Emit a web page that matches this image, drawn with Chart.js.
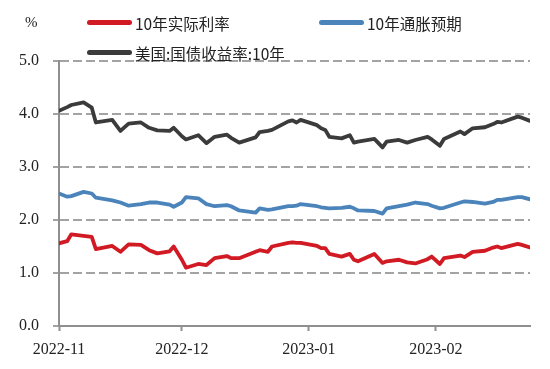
<!DOCTYPE html>
<html>
<head>
<meta charset="utf-8">
<script src="https://cdn.jsdelivr.net/npm/chart.js@4"></script>
<style>
    body { margin: 0; background: #fff; }
    #wrap { position: relative; width: 550px; height: 369px; }
    .unit { position: absolute; left: 25px; top: 14px; font: 15px "Liberation Serif", serif; color: #222; }
    .key { position: absolute; height: 5px; width: 45px; border-radius: 3px; }
    .label { position: absolute; font: 15.5px "Noto Sans CJK SC", sans-serif; color: #222; line-height: 18px; }
</style>
</head>
<body>
<div id="wrap">
    <canvas id="myChart" width="550" height="369"></canvas>
    <div class="unit">%</div>
    <div class="key" style="left:87px;top:20px;background:#d11a24"></div>
    <div class="label" style="left:135px;top:14px">10年实际利率</div>
    <div class="key" style="left:319px;top:20px;background:#4a84bb"></div>
    <div class="label" style="left:367px;top:14px">10年通胀预期</div>
    <div class="key" style="left:87px;top:50px;background:#3b3b3b"></div>
    <div class="label" style="left:135px;top:44px">美国:国债收益率:10年</div>
</div>
<script>
var dates = [
    '2022-11-01', '2022-11-03', '2022-11-04', '2022-11-07', '2022-11-09', '2022-11-10', '2022-11-14',
    '2022-11-16', '2022-11-18', '2022-11-21', '2022-11-23', '2022-11-25', '2022-11-28', '2022-11-29',
    '2022-12-01', '2022-12-02', '2022-12-05', '2022-12-07', '2022-12-09', '2022-12-12', '2022-12-13',
    '2022-12-15', '2022-12-19', '2022-12-20', '2022-12-22', '2022-12-23', '2022-12-27', '2022-12-28',
    '2022-12-29', '2022-12-30',
    '2023-01-03', '2023-01-04', '2023-01-05', '2023-01-06', '2023-01-09', '2023-01-11', '2023-01-12',
    '2023-01-13', '2023-01-17', '2023-01-19', '2023-01-20', '2023-01-23', '2023-01-25', '2023-01-27',
    '2023-01-30', '2023-01-31',
    '2023-02-02', '2023-02-03', '2023-02-07', '2023-02-08', '2023-02-10', '2023-02-13', '2023-02-15',
    '2023-02-16', '2023-02-17', '2023-02-21', '2023-02-22', '2023-02-24'
];

// 10年实际利率
var realRate = [
    1.56, 1.60, 1.73, 1.70, 1.68, 1.45, 1.51, 1.40, 1.54, 1.53, 1.43, 1.37, 1.41, 1.50,
    1.25, 1.10, 1.17, 1.15, 1.28, 1.32, 1.28, 1.28, 1.40, 1.43, 1.40, 1.50, 1.57, 1.58, 1.57, 1.57,
    1.51, 1.47, 1.47, 1.36, 1.31, 1.36, 1.25, 1.22, 1.36, 1.19, 1.22, 1.25, 1.20, 1.18, 1.26, 1.31,
    1.17, 1.28, 1.33, 1.30, 1.40, 1.42, 1.48, 1.50, 1.47, 1.55, 1.53, 1.48
];

// 10年通胀预期
var breakeven = [
    2.50, 2.44, 2.45, 2.53, 2.50, 2.42, 2.37, 2.33, 2.27, 2.30, 2.33, 2.33, 2.29, 2.25,
    2.33, 2.43, 2.41, 2.30, 2.26, 2.28, 2.26, 2.18, 2.14, 2.22, 2.19, 2.20, 2.26, 2.26, 2.27, 2.30,
    2.26, 2.24, 2.23, 2.22, 2.23, 2.25, 2.22, 2.18, 2.17, 2.12, 2.22, 2.26, 2.29, 2.33, 2.30, 2.27,
    2.22, 2.23, 2.33, 2.35, 2.34, 2.31, 2.34, 2.38, 2.38, 2.43, 2.43, 2.39
];

// 美国:国债收益率:10年
var nominal = [
    4.06, 4.13, 4.17, 4.22, 4.12, 3.84, 3.89, 3.68, 3.82, 3.84, 3.74, 3.69, 3.68, 3.74,
    3.58, 3.52, 3.60, 3.45, 3.57, 3.61, 3.55, 3.46, 3.56, 3.66, 3.68, 3.70, 3.86, 3.88, 3.84, 3.89,
    3.79, 3.73, 3.70, 3.57, 3.54, 3.60, 3.46, 3.48, 3.53, 3.37, 3.48, 3.51, 3.46, 3.51, 3.57, 3.52,
    3.40, 3.53, 3.67, 3.62, 3.73, 3.75, 3.81, 3.85, 3.84, 3.95, 3.93, 3.87
];

var tickDates = ['2022-11-01', '2022-12-01', '2023-01-01', '2023-02-01'];
var tickLabels = ['2022-11', '2022-12', '2023-01', '2023-02'];
var lastDate = '2023-02-24';

function day_of(d) {
    // days since the first date
    return (Date.parse(d) - Date.parse(dates[0])) / 86400000;
}

function points(values) {
    return values.map((v, i) => ({x: day_of(dates[i]), y: v}));
}

var tickDays = tickDates.map(day_of);
var axisFont = {family: '"Liberation Serif", serif', size: 16};

function make_set(label, values, color) {
    return {
        label: label,
        data: points(values),
        borderColor: color,
        backgroundColor: color,
        borderWidth: 3.8,
        pointRadius: 0,
        tension: 0,
        borderJoinStyle: 'round',
        borderCapStyle: 'round'
    };
}

var ctx = document.getElementById('myChart').getContext('2d');
globalThis.chart = new Chart(ctx, {
    type: 'line',
    data: {
        datasets: [
            make_set('美国:国债收益率:10年', nominal, '#3b3b3b'),
            make_set('10年通胀预期', breakeven, '#4a84bb'),
            make_set('10年实际利率', realRate, '#d11a24')
        ]
    },
    options: {
        responsive: false,
        animation: false,
        layout: {
            padding: {top: 61, right: 20, left: 0, bottom: 0}
        },
        plugins: {
            legend: {display: false},
            tooltip: {enabled: false}
        },
        scales: {
            x: {
                type: 'linear',
                min: 0,
                max: day_of(lastDate),
                afterBuildTicks: (s) => { s.ticks = tickDays.map((v) => ({value: v})); },
                afterFit: (s) => { s.height = 43; },
                ticks: {
                    color: '#222',
                    font: axisFont,
                    padding: 9,
                    maxRotation: 0,
                    callback: (v) => tickLabels[tickDays.indexOf(v)]
                },
                grid: {
                    drawOnChartArea: false,
                    drawTicks: true,
                    tickLength: 5,
                    tickColor: '#8f8f8f',
                    tickWidth: 2
                },
                border: {color: '#8f8f8f', width: 2}
            },
            y: {
                min: 0,
                max: 5,
                afterFit: (s) => { s.width = 59; },
                ticks: {
                    stepSize: 1,
                    color: '#222',
                    font: axisFont,
                    padding: 14,
                    callback: (v) => v.toFixed(1)
                },
                grid: {
                    color: '#a3a3a3',
                    lineWidth: 2,
                    tickLength: 6,
                    tickColor: '#a3a3a3'
                },
                border: {color: '#8f8f8f', width: 2, dash: [9, 4]}
            }
        }
    }
});
</script>
</body>
</html>
